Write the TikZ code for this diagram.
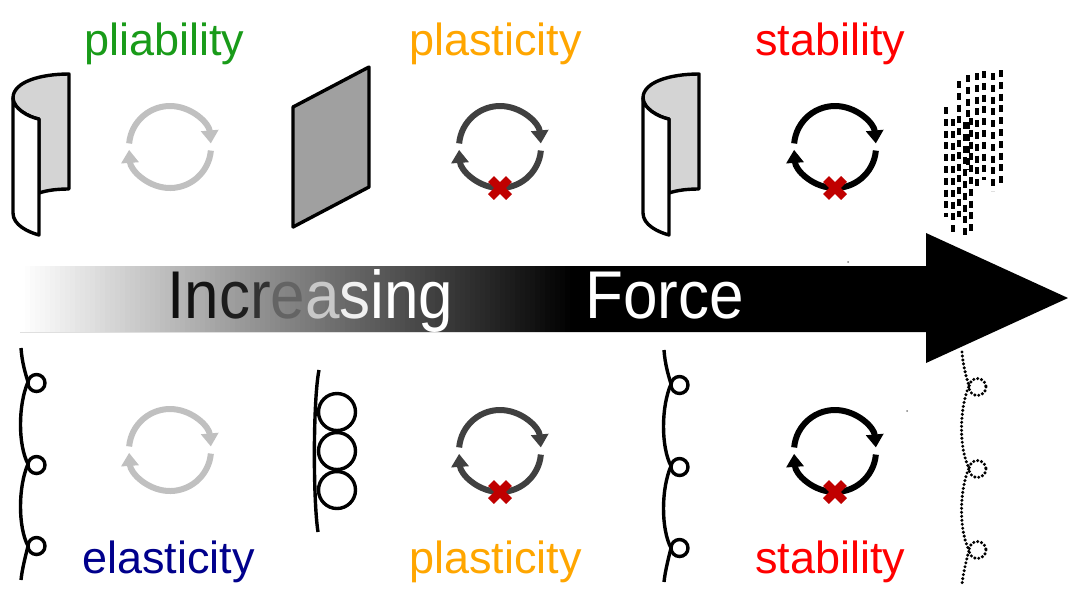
\documentclass[tikz,border=0pt]{standalone}
\usepackage{fontspec}
\setmainfont{Liberation Sans}
\usepackage{graphicx}
\usetikzlibrary{arrows.meta,calc}

\definecolor{cgreen}{RGB}{25,155,25}
\definecolor{corange}{RGB}{255,166,0}
\definecolor{cred}{RGB}{255,0,0}
\definecolor{cnavy}{RGB}{0,0,140}
\definecolor{xred}{RGB}{192,0,0}
\definecolor{ringlight}{RGB}{192,192,192}
\definecolor{ringdark}{RGB}{64,64,64}
\definecolor{sheetlight}{RGB}{212,212,212}
\definecolor{sheetdark}{RGB}{160,160,160}

% a pair of arcs chasing each other round a centre
\newcommand\cyclemark[3]{%
  \draw[cycarc,#3] (#1,#2) ++(-175:41) arc[start angle=-175,end angle=-5,radius=41];
  \draw[cycarc,#3] (#1,#2) ++(5:41) arc[start angle=5,end angle=176,radius=41];
}
% red cross placed on the bottom of a cycle
\newcommand\crossmark[2]{%
  \draw[xstroke] ($(#1,#2)+(-9,-9)$) -- ($(#1,#2)+(9,9)$);
  \draw[xstroke] ($(#1,#2)+(-9,9)$) -- ($(#1,#2)+(9,-9)$);
}
% curled sheet, shifted horizontally by #1
\newcommand\curledsheet[1]{%
  \begin{scope}[xshift=#1*0.5pt]
    \filldraw[outline,fill=sheetlight] (69,74) .. controls (40,74) and (13,82) .. (13,98)
      .. controls (13,108) and (28,117) .. (39,119) -- (39,193)
      .. controls (48,190) and (58,189) .. (69,189) -- cycle;
    \filldraw[outline,fill=white] (13,98) .. controls (13,108) and (28,117) .. (39,119)
      -- (39,235) .. controls (28,232) and (13,225) .. (13,213) -- cycle;
  \end{scope}
}
% scalloped chain with small loops, shifted by (#1,#2), drawn with style #3
\newcommand\loopchain[3]{%
  \begin{scope}[shift={(#1,#2)}]
    \draw[#3] (21,348) .. controls (22,362) and (25,372) .. (28,382)
      .. controls (18,405) and (18,445) .. (28,464)
      .. controls (18,487) and (18,527) .. (28,546)
      .. controls (25,558) and (22,570) .. (21,580);
    \draw[#3] (36.5,383) circle[radius=8.5];
    \draw[#3] (36.5,465) circle[radius=8.5];
    \draw[#3] (36.5,546) circle[radius=8.5];
  \end{scope}
}

\begin{document}
\begin{tikzpicture}[x=0.5pt,y=-0.5pt,
    lbl/.style={anchor=base west,inner sep=0pt,font=\fontsize{22.5pt}{24pt}\selectfont},
    big/.style={anchor=base west,inner sep=0pt,font=\fontsize{31pt}{33pt}\selectfont},
    cycarc/.style={line width=3pt,-{Triangle[width=8.5pt,length=6.5pt]}},
    xstroke/.style={xred,line width=4.2pt},
    outline/.style={line width=1.7pt,line join=round},
    chain/.style={line width=1.7pt},
    dottedchain/.style={line width=1.7pt,line cap=round,dash pattern=on 0pt off 2pt},
    dashcol/.style={line width=1.55pt,dash pattern=on 3.5pt off 2.4pt}]
\useasboundingbox (0,0) rectangle (1068,591);
\fill[white] (0,0) rectangle (1068,591);

% ---------- the force arrow ----------
\fill[black] (20,266) -- (926,266) -- (926,233) -- (1068,298) -- (926,363)
  -- (926,332) -- (20,332) -- cycle;
% white-to-black ramp over the tail, built from narrow strips
\foreach \i in {0,...,110}{
  \definecolor{rampcol}{gray}{\fpeval{1-\i/110}}
  \fill[rampcol] (20+\i*5,266) rectangle (25.8+\i*5,332);
}
\node[big] (inc) at (167,318) {\scalebox{1}[1.09]{%
  \textcolor[RGB]{15,15,15}{I}\textcolor[RGB]{20,20,20}{n}\textcolor[RGB]{30,30,30}{c}%
  \textcolor[RGB]{50,50,50}{r}\textcolor[RGB]{100,100,100}{e}\textcolor[RGB]{200,200,200}{a}%
  \textcolor[RGB]{240,240,240}{s}\textcolor{white}{ing}}};
\node[big,text=white] (force) at (585,318) {\scalebox{1}[1.09]{Force}};

% ---------- labels ----------
\node[lbl,text=cgreen] (pliab) at (84,55) {pliability};
\node[lbl,text=corange] (plastTop) at (409,55) {plasticity};
\node[lbl,text=cred] (stabTop) at (755,55) {stability};
\node[lbl,text=cnavy] (elast) at (82,573) {elasticity};
\node[lbl,text=corange] (plastBot) at (409,573) {plasticity};
\node[lbl,text=cred] (stabBot) at (755,573) {stability};

% ---------- sheets ----------
\curledsheet{0}
\curledsheet{630}
\filldraw[outline,fill=sheetdark] (293,107) -- (369,67) -- (369,187) -- (293,227) -- cycle;

% torn sheet: broken columns
\foreach \x/\a/\b in {946/107/217, 953/119/233, 959/81/217, 965/122/237, 968/75/170,
                     971/118/235, 977/73/190, 984/71/180, 993/73/191, 1001/70/187}
  \draw[dashcol] (\x,\a) -- (\x,\b);

% ---------- chains ----------
\loopchain{0}{0}{chain}
\loopchain{643}{2}{chain}
\loopchain{941}{4}{dottedchain}
% tightly coiled chain
\draw[chain] (319,370) .. controls (313,400) and (313,500) .. (318,532);
\draw[chain] (337,412) circle[radius=18.5];
\draw[chain] (337,451) circle[radius=18.5];
\draw[chain] (337,490) circle[radius=18.5];

% ---------- cycles ----------
\cyclemark{170}{147}{ringlight}
\cyclemark{500}{147}{ringdark}
\cyclemark{835}{147}{black}
\cyclemark{170}{450}{ringlight}
\cyclemark{500}{451}{ringdark}
\cyclemark{835}{451}{black}
\crossmark{500}{188}
\crossmark{835}{188}
\crossmark{500}{492}
\crossmark{835}{492}

% stray specks
\fill[gray] (848,262) circle[radius=1];
\fill[gray] (907,411) circle[radius=1];
\end{tikzpicture}
\end{document}
